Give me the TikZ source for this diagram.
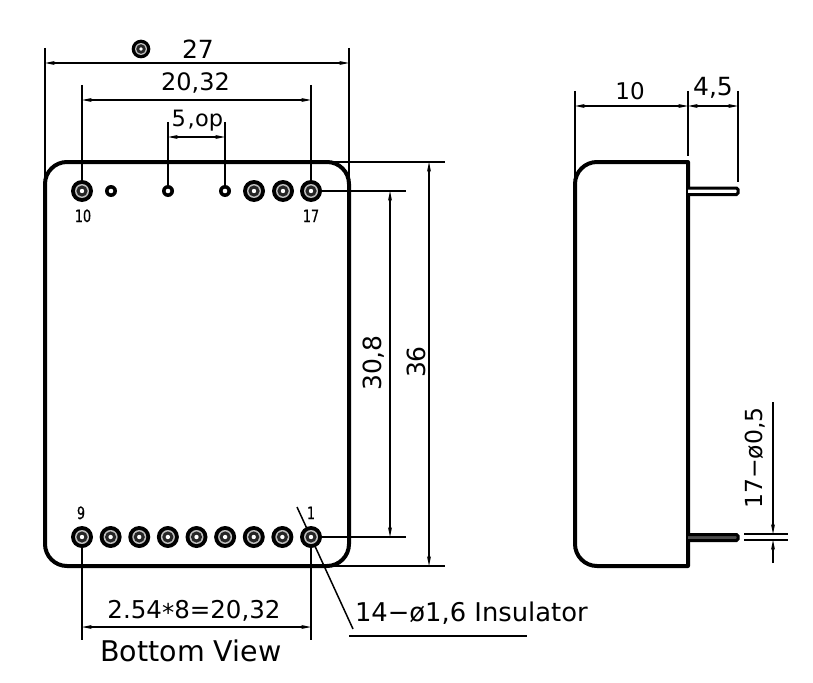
\documentclass[tikz,border=0pt]{standalone}
\usepackage{fontspec}
\setmainfont{DejaVu Sans}
\newfontfamily\pinfont[FakeStretch=0.75,FakeBold=0.6]{DejaVu Sans}
\usetikzlibrary{arrows.meta}
\tikzset{
  x=1pt,y=-1pt,
  body/.style={line width=4pt,line join=round},
  dimline/.style={line width=1.2pt,{Stealth[length=10pt,width=4pt]}-{Stealth[length=10pt,width=4pt]}},
  ptr/.style={line width=1.2pt,-{Stealth[length=10pt,width=4pt]}},
  ext/.style={line width=1.5pt},
  lbl/.style={inner sep=0pt,outer sep=0pt,text=black},
  pinlbl/.style={lbl,anchor=base,font=\pinfont\fontsize{17}{17}\selectfont},
  bigpin/.pic={
    \fill[black] (0,0) circle[radius=11];
    \fill[black!25] (0,0) circle[radius=7];
    \fill[black!85] (0,0) circle[radius=5.6];
    \fill[white] (0,0) circle[radius=2.2];
  },
  smallpin/.pic={
    \fill[black] (0,0) circle[radius=6];
    \fill[white] (0,0) circle[radius=2.3];
  },
}
\begin{document}
\begin{tikzpicture}
\useasboundingbox (0,0) rectangle (813,682);
\fill[white] (0,0) rectangle (813,682);
% coordinates
\coordinate (extL) at (45,48);   \coordinate (extLb) at (45,180);
\coordinate (extR) at (349,48);  \coordinate (extRb) at (349,180);
\coordinate (p10) at (82,191);   \coordinate (p10t) at (82,85);
\coordinate (p17) at (311,191);  \coordinate (p17t) at (311,85);
\coordinate (pa) at (168,191);   \coordinate (pat) at (168,122);
\coordinate (pb) at (225,191);   \coordinate (pbt) at (225,122);
\coordinate (p9) at (82,537);    \coordinate (p9b) at (82,640);
\coordinate (p1) at (311,537);   \coordinate (p1b) at (311,640);
% dimension extensions
\draw[ext] (extL)--(extLb) (extR)--(extRb) (p10t)--(p10) (p17t)--(p17) (pat)--(pa) (pbt)--(pb) (p9)--(p9b) (p1)--(p1b);
\coordinate (e1a) at (330,162); \coordinate (e1b) at (445,162);
\coordinate (e2a) at (311,191); \coordinate (e2b) at (406,191);
\coordinate (e3a) at (311,537); \coordinate (e3b) at (406,537);
\coordinate (e4a) at (330,566); \coordinate (e4b) at (445,566);
\draw[line width=1.8pt] (e1a)--(e1b) (e2a)--(e2b) (e3a)--(e3b) (e4a)--(e4b);
% dim lines
\coordinate (d27a) at (45,63); \coordinate (d27b) at (349,63);
\coordinate (d20a) at (82,100); \coordinate (d20b) at (311,100);
\coordinate (d5a) at (168,137); \coordinate (d5b) at (225,137);
\coordinate (d254a) at (82,627); \coordinate (d254b) at (311,627);
\coordinate (d30a) at (390,191); \coordinate (d30b) at (390,537);
\coordinate (d36a) at (429,162); \coordinate (d36b) at (429,566);
\draw[dimline] (d27a)--(d27b);
\draw[dimline] (d20a)--(d20b);
\draw[dimline] (d5a)--(d5b);
\draw[dimline] (d254a)--(d254b);
\draw[dimline] (d30a)--(d30b);
\draw[dimline] (d36a)--(d36b);
% leader
\coordinate (la) at (297,507); \coordinate (lb) at (353,629);
\coordinate (ua) at (349,636); \coordinate (ub) at (527,636);
\draw[ext] (la)--(lb);
\draw[line width=1.8pt] (ua)--(ub);
% body
\draw[body,rounded corners=22pt] (45,162) rectangle (349,566);
% pins
\foreach \x/\n in {82/a,254/f,283/g,311/h}{\pic (top\n) at (\x,191) {bigpin};}
\foreach \x/\n in {111/b,168/c,225/d}{\pic (tops\n) at (\x,191) {smallpin};}
\foreach \i in {0,...,8}{\pic (bot\i) at ({82+28.625*\i},537) {bigpin};}
\pic[scale=0.85] (icon) at (141,49) {bigpin};
% labels
\node[lbl,font=\fontsize{25}{25}\selectfont] (t27) at (198,49) {27};
\node[lbl,font=\fontsize{24}{25}\selectfont] (t20) at (195.5,83) {20,32};
\node[lbl,font=\fontsize{22.5}{25}\selectfont,anchor=base] (t5) at (197.5,127) {5{\kern1.5pt},{\kern0.5pt}op};
\node[pinlbl] (l10) at (83,222) {10};
\node[pinlbl] (l17) at (311,222) {17};
\node[pinlbl] (l9) at (81,519) {9};
\node[pinlbl] (l1) at (311,519) {1};
\node[lbl,font=\fontsize{24.5}{25}\selectfont,anchor=base] (t254) at (194,618) {2.54\raisebox{-3pt}{*}8=20,32};
\node[lbl,font=\fontsize{28.5}{28}\selectfont,anchor=base] (tbv) at (191,661) {Bottom View};
\node[lbl,font=\fontsize{25.8}{26}\selectfont,anchor=base west] (tins) at (355,621) {14−ø1,6 Insulator};
\node[lbl,font=\fontsize{25}{25}\selectfont,rotate=90] (t308) at (374,363) {30,8};
\node[lbl,font=\fontsize{25}{25}\selectfont,rotate=90] (t36) at (416,362) {36};
% side view
\coordinate (sl) at (575,91); \coordinate (slb) at (575,180);
\coordinate (sm) at (688,91); \coordinate (smb) at (688,156);
\coordinate (sr) at (738,91); \coordinate (srb) at (738,182);
\draw[ext] (sl)--(slb) (sm)--(smb) (sr)--(srb);
\coordinate (d10a) at (575,106); \coordinate (d10b) at (688,106);
\coordinate (d45a) at (688,106); \coordinate (d45b) at (738,106);
\draw[dimline] (d10a)--(d10b);
\draw[dimline] (d45a)--(d45b);
\draw[body] (688,162) -- (597,162) arc[start angle=-90,end angle=-180,radius=22] -- (575,544) arc[start angle=180,end angle=90,radius=22] -- (688,566) -- cycle;
\draw[line width=3pt,rounded corners=1.5pt,fill=white] (688,188) -- (738,188) -- (738,194.5) -- (688,194.5);
\draw[line width=3pt,rounded corners=1.5pt,fill=black!70] (688,534.5) -- (738,534.5) -- (738,540.5) -- (688,540.5);
\node[lbl,font=\fontsize{23}{25}\selectfont] (t10) at (630,91) {10};
\node[lbl,font=\fontsize{25}{25}\selectfont] (t45) at (713,88) {4,5};
\node[lbl,font=\fontsize{23.5}{25}\selectfont,rotate=90] (t17) at (755,458) {17−ø0,5};
\coordinate (wa) at (744,534); \coordinate (wb) at (788,534);
\coordinate (wc) at (744,540); \coordinate (wd) at (788,540);
\draw[ext] (wa)--(wb) (wc)--(wd);
\coordinate (va) at (773,402); \coordinate (vb) at (773,534);
\coordinate (vc) at (773,563); \coordinate (vd) at (773,540);
\draw[ptr] (va)--(vb);
\draw[ptr] (vc)--(vd);
\end{tikzpicture}
\end{document}
